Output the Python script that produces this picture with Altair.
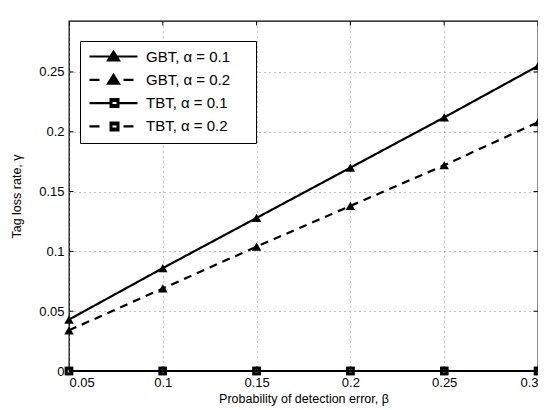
import altair as alt
import pandas as pd

beta = [0.05, 0.10, 0.15, 0.20, 0.25, 0.30]
gbt_a01 = [0.043, 0.086, 0.128, 0.170, 0.212, 0.255]
gbt_a02 = [0.034, 0.069, 0.104, 0.138, 0.172, 0.208]
tbt_a01 = [0.0, 0.0, 0.0, 0.0, 0.0, 0.0]
tbt_a02 = [0.0, 0.0, 0.0, 0.0, 0.0, 0.0]
series_names = ["GBT, α = 0.1", "GBT, α = 0.2", "TBT, α = 0.1", "TBT, α = 0.2"]
x_ticks = [0.05, 0.1, 0.15, 0.2, 0.25, 0.3]
y_ticks = [0, 0.05, 0.1, 0.15, 0.2, 0.25]
x_range = [0.05, 0.3]
y_range = [0, 0.2926]

rows = []
for name, vals in zip(series_names, [gbt_a01, gbt_a02, tbt_a01, tbt_a02]):
    for b, v in zip(beta, vals):
        rows.append({"beta": b, "gamma": v, "series": name, "name": name, "kind": name[:3]})
df = pd.DataFrame(rows)
xt_df = pd.DataFrame({"beta": x_ticks})
yt_df = pd.DataFrame({"gamma": y_ticks})

FONT = "Liberation Sans"

xs = alt.Scale(domain=x_range, nice=False, zero=False)
ys = alt.Scale(domain=y_range, nice=False)
x = alt.X("beta:Q", scale=xs,
          axis=alt.Axis(values=x_ticks, format="~g", title="Probability of detection error, β"))
y = alt.Y("gamma:Q", scale=ys,
          axis=alt.Axis(values=y_ticks, format="~g", title="Tag loss rate, γ"))

sq_hole = "M-1,-1H1V1H-1Z M-0.35,-0.35V0.35H0.35V-0.35Z"

base = alt.Chart(df)

lines = base.mark_line(color="black", strokeWidth=2.2).encode(
    x=x, y=y,
    strokeDash=alt.StrokeDash("series:N", scale=alt.Scale(domain=series_names,
                              range=[[1, 0], [8, 6], [1, 0], [8, 6]]), legend=None),
    detail="series:N",
)

tri_points = base.mark_point(filled=True, color="black", opacity=1, shape="triangle-up", size=90).encode(
    x=x, y=y).transform_filter(alt.datum.kind == "GBT")
sq_points = base.mark_point(filled=True, color="black", opacity=1, shape=sq_hole, size=70).encode(
    x=x, y=y).transform_filter(alt.datum.kind == "TBT")

# inward axis ticks (half of each tick is clipped away)
tick_kw = dict(color="black", thickness=1, size=9, clip=True, opacity=1)
xt_bottom = alt.Chart(xt_df).mark_tick(orient="vertical", **tick_kw).encode(x=x, y=alt.datum(y_range[0]))
xt_top = alt.Chart(xt_df).mark_tick(orient="vertical", **tick_kw).encode(x=x, y=alt.datum(y_range[1]))
yt_left = alt.Chart(yt_df).mark_tick(orient="horizontal", **tick_kw).encode(y=y, x=alt.datum(x_range[0]))
yt_right = alt.Chart(yt_df).mark_tick(orient="horizontal", **tick_kw).encode(y=y, x=alt.datum(x_range[1]))

# legend glyphs drawn as filled paths: unit = 6px (symbol size 12px), centre of symbol at 6px
U = 6.0
def px(v):
    return f"{v / U:.3f}"

L0 = -6.0
HW = 1.1  # half line width, px
RIGHT = 152.0  # invisible zero-area point that widens the legend box

def rect(a, b, h):
    return f"M{px(a)},{px(-h)}H{px(b)}V{px(h)}H{px(a)}Z"

def glyph(dashed, marker):
    c = L0 + 24 if marker == "tri" else L0 + 25
    if dashed:
        segs = [(L0, L0 + 10), (L0 + 34, L0 + 44)]
    elif marker == "sq":
        segs = [(L0, c - 5), (c + 5, L0 + 48)]
    else:
        segs = [(L0, L0 + 48)]
    p = " ".join(rect(a, b, HW) for a, b in segs)
    if marker == "tri":
        p += f" M{px(c)},{px(-7)}L{px(c + 7.5)},{px(5)}L{px(c - 7.5)},{px(5)}Z"
    else:
        p += (f" M{px(c - 5)},{px(-5)}H{px(c + 5)}V{px(5)}H{px(c - 5)}Z"
              f" M{px(c - 2)},{px(-1)}V{px(1)}H{px(c + 2)}V{px(-1)}Z")
    p += f" M{px(RIGHT)},0L{px(RIGHT)},0"
    return p

legend_paths = [glyph(False, "tri"), glyph(True, "tri"), glyph(False, "sq"), glyph(True, "sq")]

legend_layer = base.mark_point(filled=True, color="black", opacity=1).encode(
    x=x, y=y,
    shape=alt.Shape("name:N", scale=alt.Scale(domain=series_names, range=legend_paths),
                    legend=alt.Legend(title=None, orient="none", legendX=11, legendY=20,
                                      padding=8, strokeColor="black", fillColor="white",
                                      symbolSize=144, symbolStrokeWidth=0,
                                      symbolFillColor="black", symbolOpacity=1,
                                      labelFont=FONT, labelFontSize=15, labelColor="black",
                                      labelOffset=43, rowPadding=7.3)),
).transform_filter("datum.beta > 1")

chart = alt.layer(
    lines, tri_points, sq_points, xt_bottom, xt_top, yt_left, yt_right, legend_layer
).resolve_legend(
    shape="independent", strokeDash="independent"
).properties(
    width=469, height=350,
    autosize=alt.AutoSizeParams(type="none"),
    padding={"left": 61, "top": 13, "right": 0, "bottom": 39},
).configure_view(
    stroke="black", strokeWidth=1.3
).configure_axis(
    domain=False, ticks=False, grid=True, gridColor="#888888", gridDash=[1, 4],
    gridWidth=1, labelFont=FONT, labelFontSize=13, labelColor="black",
    titleFont=FONT, titleFontSize=12.5, titleColor="black", titleFontWeight="normal",
    labelPadding=5,
).configure_axisX(
    titlePadding=3,
).configure_axisY(
    titlePadding=15,
)

chart.save("out.html", embed_options={"renderer": "svg", "actions": False})
